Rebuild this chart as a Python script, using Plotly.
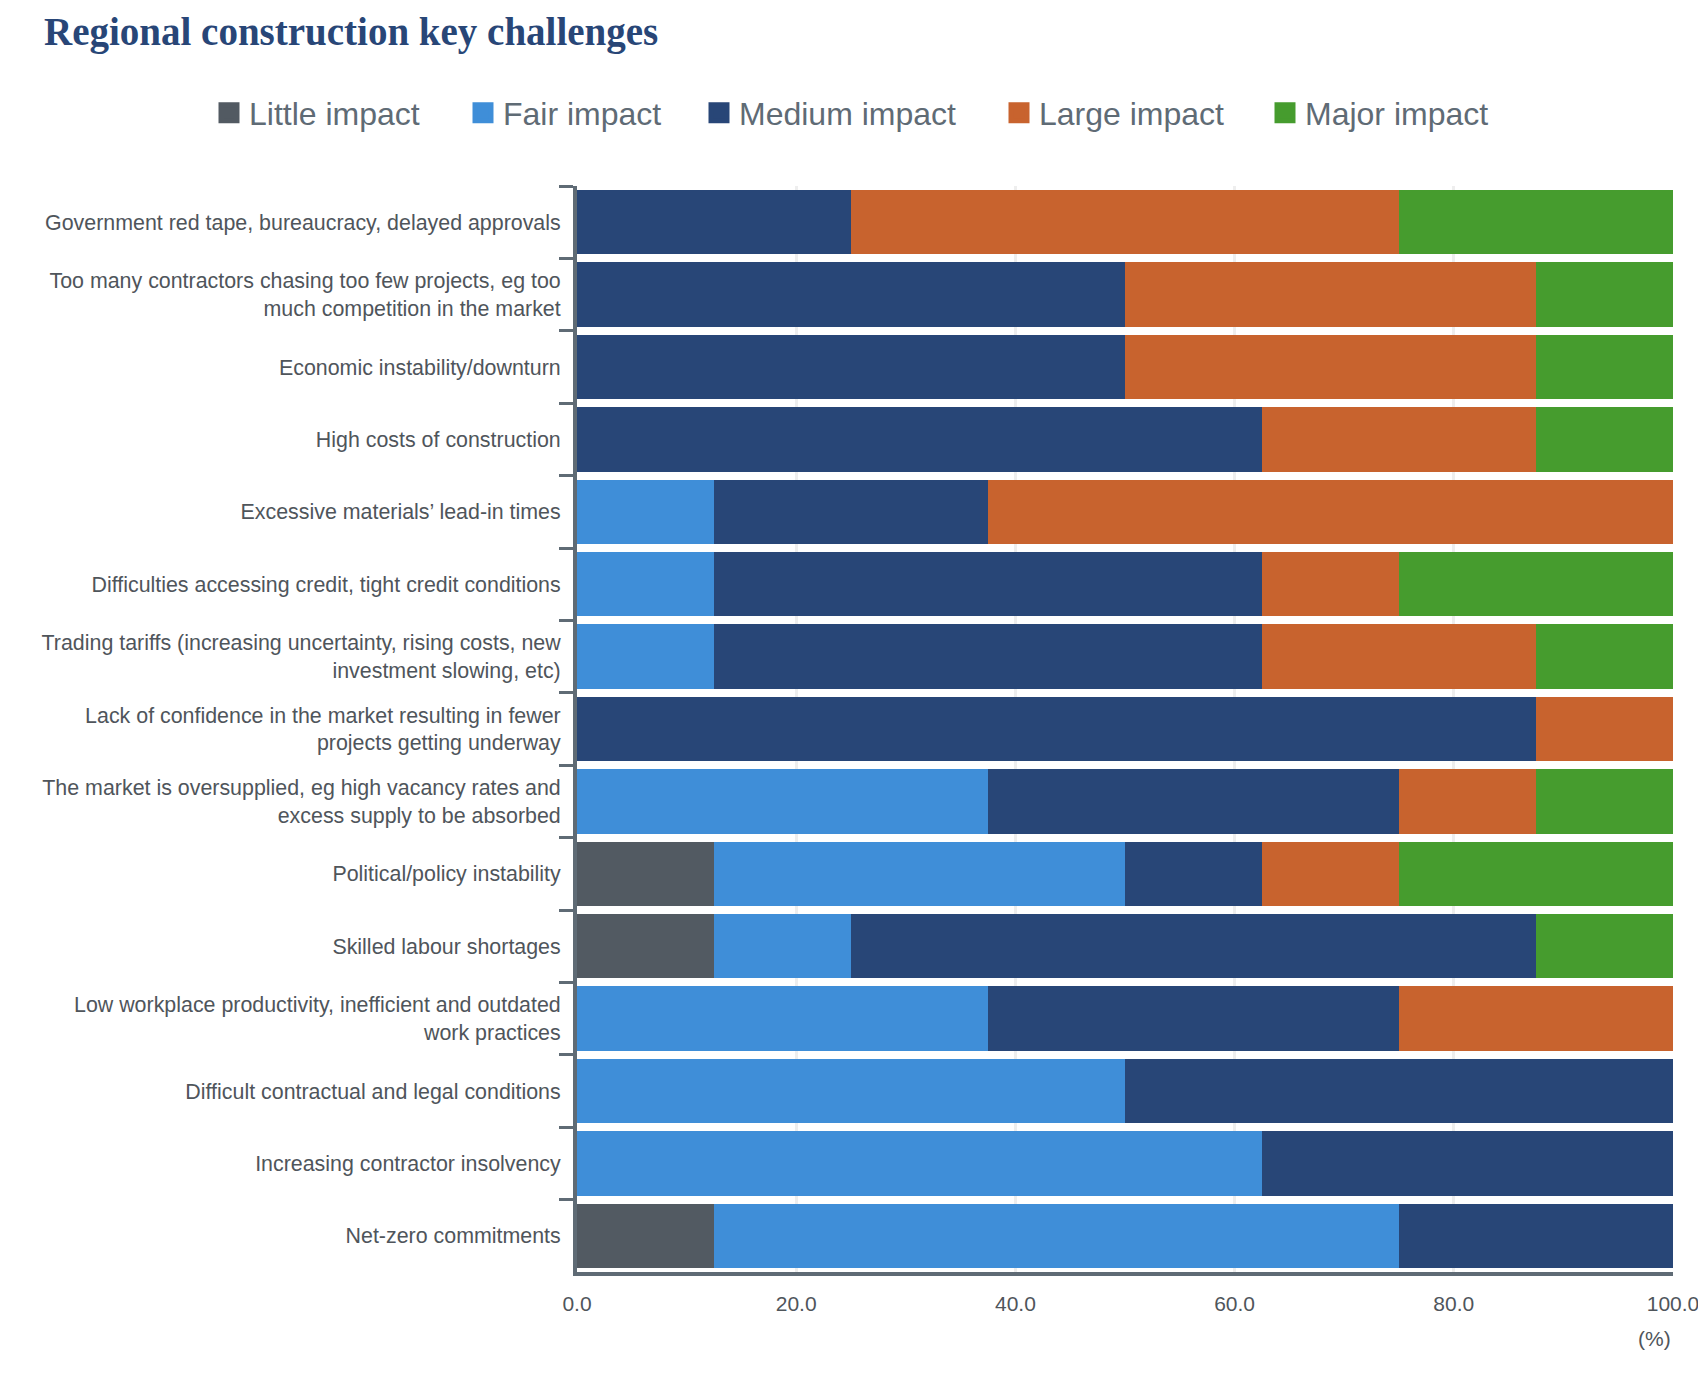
import plotly.graph_objects as go

categories = [
    "Government red tape, bureaucracy, delayed approvals",
    "Too many contractors chasing too few projects, eg too<br>much competition in the market",
    "Economic instability/downturn",
    "High costs of construction",
    "Excessive materials’ lead-in times",
    "Difficulties accessing credit, tight credit conditions",
    "Trading tariffs (increasing uncertainty, rising costs, new<br>investment slowing, etc)",
    "Lack of confidence in the market resulting in fewer<br>projects getting underway",
    "The market is oversupplied, eg high vacancy rates and<br>excess supply to be absorbed",
    "Political/policy instability",
    "Skilled labour shortages",
    "Low workplace productivity, inefficient and outdated<br>work practices",
    "Difficult contractual and legal conditions",
    "Increasing contractor insolvency",
    "Net-zero commitments",
]

little = [0, 0, 0, 0, 0, 0, 0, 0, 0, 12.5, 12.5, 0, 0, 0, 12.5]
fair = [0, 0, 0, 0, 12.5, 12.5, 12.5, 0, 37.5, 37.5, 12.5, 37.5, 50, 62.5, 62.5]
medium = [25, 50, 50, 62.5, 25, 50, 50, 87.5, 37.5, 12.5, 62.5, 37.5, 50, 37.5, 25]
large = [50, 37.5, 37.5, 25, 62.5, 12.5, 25, 12.5, 12.5, 12.5, 0, 25, 0, 0, 0]
major = [25, 12.5, 12.5, 12.5, 0, 25, 12.5, 0, 12.5, 25, 12.5, 0, 0, 0, 0]

series_names = ["Little impact", "Fair impact", "Medium impact", "Large impact", "Major impact"]
series_values = [little, fair, medium, large, major]
colors = ["#525a62", "#3f8ed8", "#284677", "#c8632e", "#469c2e"]
legend_widths = [209, 191, 255, 221, 190]

x_ticks = [0, 20, 40, 60, 80, 100]

W, H = 1706, 1374
ML, MR, MT, MB = 569, 41, 178, 110
PW = W - ML - MR
PH = H - MT - MB

fig = go.Figure()
for name, vals, col in zip(series_names, series_values, colors):
    fig.add_trace(go.Bar(
        y=categories, x=vals, name=name, orientation="h",
        legendgroup=name, showlegend=False,
        marker=dict(color=col, line=dict(width=0)),
        hovertemplate="%{y}: %{x:.1f}%<extra>" + name + "</extra>",
    ))
# legend entries with larger square swatches
for name, col, lw in zip(series_names, colors, legend_widths):
    fig.add_trace(go.Scatter(
        x=[None], y=[None], mode="markers", name=name, legendgroup=name,
        legendwidth=lw,
        marker=dict(symbol="square", size=22, color=col, line=dict(color=col, width=5)),
        hoverinfo="skip",
    ))

axis_grey = "#5f6b75"
label_grey = "#4f555b"
fig.update_layout(
    barmode="stack",
    bargap=0.11,
    width=W, height=H,
    margin=dict(l=ML, r=MR, t=MT, b=MB),
    plot_bgcolor="white", paper_bgcolor="white",
    title=dict(
        text="<b>Regional construction key challenges</b>",
        x=36 / W, xref="container", xanchor="left",
        y=1 - 10 / H, yref="container", yanchor="top",
        font=dict(family="Liberation Serif", size=39, color="#284677"),
    ),
    legend=dict(
        orientation="h", xref="paper", x=(201 - ML) / PW, xanchor="left",
        yref="paper", y=1 + (MT - 105) / PH, yanchor="middle",
        font=dict(family="Liberation Sans", size=32, color=axis_grey),
        traceorder="normal", itemsizing="trace",
    ),
    xaxis=dict(
        range=[0, 100], tickvals=x_ticks, tickformat=".1f",
        showgrid=True, gridcolor="#eeeeee", gridwidth=3,
        showline=True, linecolor=axis_grey, linewidth=4,
        ticks="", zeroline=False, ticklabelstandoff=10,
        tickfont=dict(family="Liberation Sans", size=21, color=label_grey),
    ),
    yaxis=dict(
        autorange="reversed",
        showline=True, linecolor=axis_grey, linewidth=4,
        ticks="outside", tickson="boundaries", ticklen=14, tickwidth=3, tickcolor=axis_grey,
        showgrid=False, ticklabelstandoff=8,
        tickfont=dict(family="Liberation Sans", size=21.4, color=label_grey),
    ),
    annotations=[dict(
        text="(%)", x=1, xref="paper", xanchor="right",
        y=-0.049, yref="paper", yanchor="top", showarrow=False,
        font=dict(family="Liberation Sans", size=21, color=label_grey),
    )],
)

fig.write_html("out.html")
